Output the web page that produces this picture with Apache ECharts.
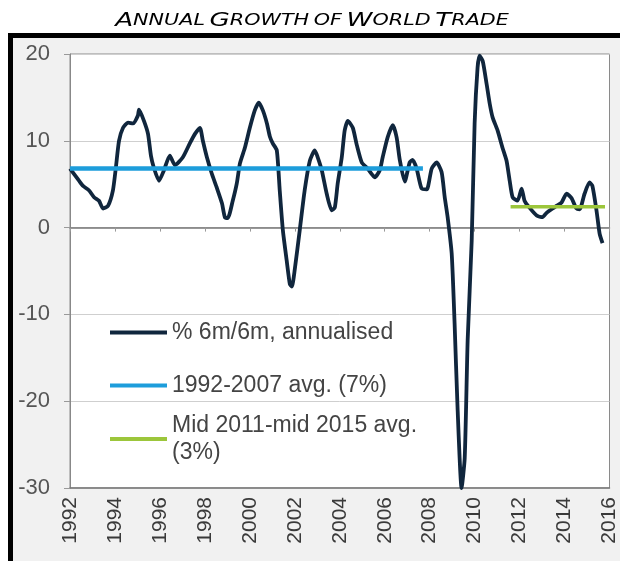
<!DOCTYPE html>
<html>
<head>
<meta charset="utf-8">
<script src="https://cdn.jsdelivr.net/npm/echarts@6/dist/echarts.min.js"></script>
<style>
  html, body { margin: 0; padding: 0; background: #fff; }
  #main { width: 620px; height: 561px; }
</style>
</head>
<body>
<div id="main"></div>
<script>
// world trade, % 6m/6m annualised
var years = [
  1992.0, 1992.4, 1992.58, 1992.84, 1993.07, 1993.29, 1993.47, 1993.69, 1993.91, 1994.04,
  1994.18, 1994.36, 1994.58, 1994.8, 1995.02, 1995.07, 1995.29, 1995.47, 1995.6, 1995.73,
  1995.96, 1996.18, 1996.44, 1996.67, 1997.02, 1997.33, 1997.56, 1997.78, 1997.91, 1998.09,
  1998.31, 1998.53, 1998.76, 1998.89, 1999.02, 1999.24, 1999.42, 1999.56, 1999.78, 2000.0,
  2000.22, 2000.4, 2000.58, 2000.76, 2000.89, 2001.02, 2001.2, 2001.33, 2001.47, 2001.64,
  2001.78, 2001.87, 2002.0, 2002.22, 2002.44, 2002.67, 2002.89, 2003.02, 2003.2, 2003.42,
  2003.64, 2003.78, 2003.91, 2004.09, 2004.22, 2004.36, 2004.58, 2004.76, 2004.98, 2005.24,
  2005.56, 2005.78, 2005.91, 2006.13, 2006.36, 2006.53, 2006.67, 2006.89, 2007.11, 2007.24,
  2007.42, 2007.64, 2007.87, 2008.09, 2008.31, 2008.53, 2008.67, 2008.8, 2008.98, 2009.11,
  2009.24, 2009.42, 2009.56, 2009.69, 2009.87, 2010.0, 2010.13, 2010.22, 2010.36, 2010.53,
  2010.67, 2010.8, 2011.02, 2011.24, 2011.42, 2011.56, 2011.69, 2011.91, 2012.09, 2012.22,
  2012.44, 2012.76, 2013.02, 2013.2, 2013.47, 2013.64, 2013.87, 2014.09, 2014.31, 2014.53,
  2014.67, 2014.89, 2015.11, 2015.24, 2015.42, 2015.56, 2015.69
];
var growth = [
  6.8, 5.4, 4.8, 4.3, 3.5, 3.1, 2.2, 2.5, 4.3, 6.9,
  10.0, 11.5, 12.1, 12.0, 12.9, 13.6, 12.3, 10.8, 8.3, 6.9,
  5.4, 6.6, 8.3, 7.2, 8.1, 9.7, 10.8, 11.5, 10.0, 8.1,
  6.2, 4.6, 2.8, 1.2, 1.1, 3.1, 5.1, 7.4, 9.2, 11.5,
  13.5, 14.4, 13.5, 12.0, 10.5, 9.7, 8.9, 4.3, -0.3, -3.8,
  -6.5, -6.8, -4.8, -0.3, 4.3, 7.7, 8.9, 8.1, 6.6, 3.9,
  2.0, 2.3, 5.1, 8.1, 11.2, 12.3, 11.5, 9.5, 7.5, 6.8,
  5.8, 6.6, 8.1, 10.4, 11.8, 10.4, 7.8, 5.3, 7.5, 7.8,
  6.8, 4.5, 4.4, 6.8, 7.5, 6.4, 3.5, 1.2, -3.0, -11.1,
  -20.7, -30.0, -26.5, -13.0, -1.5, 12.0, 18.4, 19.8, 19.2, 16.6,
  14.3, 12.7, 11.2, 9.2, 7.7, 5.4, 3.5, 3.1, 4.5, 3.1,
  2.3, 1.4, 1.2, 1.7, 2.2, 2.5, 2.9, 3.9, 3.4, 2.2,
  2.1, 3.9, 5.2, 4.8, 2.0, -0.7, -1.8
];
var longAvgYears = [1992, 2007.7];
var longAvgValues = [6.8, 6.8];
var recentAvgYears = [2011.6, 2015.8];
var recentAvgValues = [2.4, 2.4];

var seriesNames = ['% 6m/6m, annualised', '1992-2007 avg. (7%)', 'Mid 2011-mid 2015 avg. (3%)'];

function pairs(xs, ys) {
  return xs.map(function (x, i) { return [x, ys[i]]; });
}

var myChart = echarts.init(document.getElementById('main'));
var font = 'Liberation Sans, Arial, sans-serif';

myChart.setOption({
  backgroundColor: '#f1f1f1',
  animation: false,
  graphic: [
    { type: 'rect', shape: { x: 0, y: 0, width: 620, height: 33 }, style: { fill: '#fff' } },
    { type: 'rect', shape: { x: 0, y: 33, width: 8, height: 528 }, style: { fill: '#fff' } },
    { type: 'rect', shape: { x: 8, y: 33, width: 612, height: 5 }, style: { fill: '#000' } },
    { type: 'rect', shape: { x: 8, y: 33, width: 5, height: 528 }, style: { fill: '#000' } },
    // title in small caps, stretched like the original typeface
    {
      type: 'text', x: 312, y: 21, scaleX: 1.38,
      style: {
        text: '{b|A}{s|NNUAL} {b|G}{s|ROWTH} {s|OF} {b|W}{s|ORLD} {b|T}{s|RADE}',
        align: 'center', verticalAlign: 'middle',
        rich: {
          b: { fontFamily: 'DejaVu Sans', fontStyle: 'italic', fontWeight: 'normal', fontSize: 19, fill: '#000' },
          s: { fontFamily: 'DejaVu Sans', fontStyle: 'italic', fontWeight: 'normal', fontSize: 15, fill: '#000' }
        }
      }
    }
  ],
  legend: [{
    data: [seriesNames[0], seriesNames[1]],
    orient: 'vertical',
    left: 105,
    top: 314,
    itemWidth: 57,
    itemHeight: 4,
    itemGap: 26,
    icon: 'rect',
    textStyle: { fontFamily: font, fontSize: 23, color: '#444', lineHeight: 27 }
  }, {
    data: [seriesNames[2]],
    orient: 'vertical',
    left: 105,
    top: 394,
    itemWidth: 57,
    itemHeight: 4,
    icon: 'rect',
    formatter: function () { return 'Mid 2011-mid 2015 avg.\n(3%)'; },
    textStyle: { fontFamily: font, fontSize: 23, color: '#444', lineHeight: 27, padding: [26, 0, 0, 0] }
  }],
  grid: {
    left: 70, right: 8, top: 54, bottom: 73,
    show: true,
    backgroundColor: '#fff',
    borderColor: '#8a8a8a',
    borderWidth: 1
  },
  xAxis: [{
    type: 'value',
    min: 1992, max: 2016, interval: 2,
    axisLine: { onZero: false, lineStyle: { color: '#777', width: 1.5 } },
    axisTick: { show: false },
    splitLine: { show: false },
    axisLabel: {
      rotate: 90, margin: 9,
      fontFamily: font, fontSize: 21, color: '#3a3a3a',
      formatter: function (v) { return String(v); }
    }
  }, {
    type: 'value',
    position: 'bottom',
    min: 1992, max: 2016, interval: 2,
    axisLine: { onZero: true, lineStyle: { color: '#777', width: 1.5 } },
    axisTick: { show: true, length: 4, lineStyle: { color: '#999' } },
    axisLabel: { show: false },
    splitLine: { show: false }
  }],
  yAxis: {
    type: 'value',
    min: -30, max: 20, interval: 10,
    axisLine: { show: true, lineStyle: { color: '#888' } },
    axisTick: { show: true, length: 6, lineStyle: { color: '#999' } },
    splitLine: { show: true, lineStyle: { color: '#cfcfcf' } },
    axisLabel: { margin: 20, fontFamily: font, fontSize: 22, color: '#555' }
  },
  series: [{
    name: seriesNames[0],
    type: 'line',
    data: pairs(years, growth),
    showSymbol: false,
    smooth: 0.2,
    color: '#10263d',
    lineStyle: { width: 3.8, color: '#10263d' }
  }, {
    name: seriesNames[1],
    type: 'line',
    data: pairs(longAvgYears, longAvgValues),
    showSymbol: false,
    color: '#1d9ddb',
    lineStyle: { width: 4.5, color: '#1d9ddb' }
  }, {
    name: seriesNames[2],
    type: 'line',
    data: pairs(recentAvgYears, recentAvgValues),
    showSymbol: false,
    color: '#9cc63b',
    lineStyle: { width: 3.5, color: '#9cc63b' }
  }]
});
</script>
</body>
</html>
